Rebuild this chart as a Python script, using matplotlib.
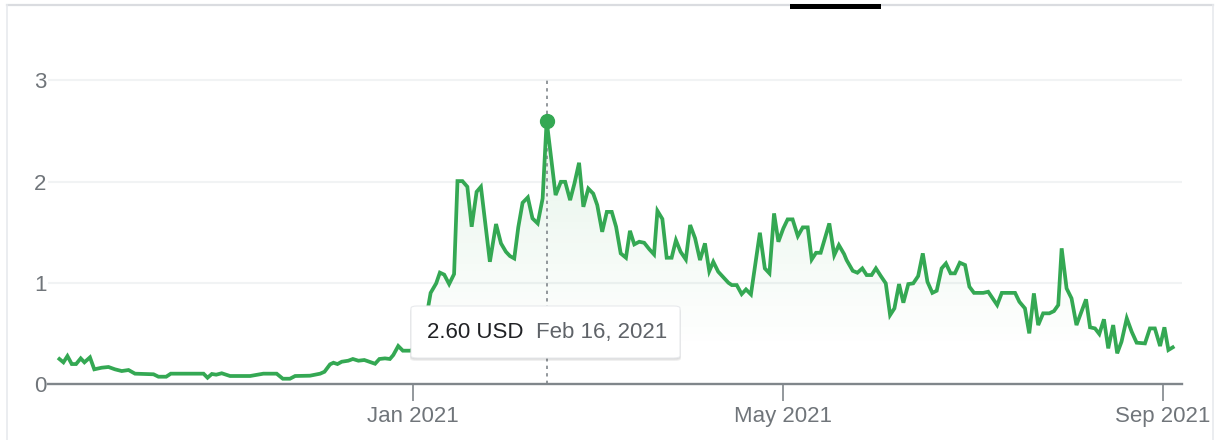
import matplotlib
matplotlib.use('Agg')
import matplotlib.pyplot as plt
import matplotlib.dates as mdates
import numpy as np
import datetime as dt
from matplotlib.colors import to_rgb
from matplotlib.patches import FancyBboxPatch, Rectangle
from matplotlib.lines import Line2D

# ---------------- data ----------------
base_date = dt.datetime(2021, 1, 1)
# days relative to Jan 1, 2021
day_offsets = [
    -114.6, -113.3, -112.0, -110.6, -109.2, -107.7, -106.5, -104.7, -103.3, -100.9,
    -98.7, -96.6, -94.4, -92.2, -90.1, -84.1, -82.5, -80.0, -78.5, -67.9,
    -66.6, -65.2, -63.8, -62.0, -59.3, -52.8, -48.5, -44.2, -42.2, -39.9,
    -38.2, -33.4, -30.1, -28.7, -26.9, -25.8, -24.5, -23.1, -21.0, -19.5,
    -17.7, -15.8, -13.9, -12.3, -10.9, -9.1, -7.5, -6.4, -4.8, -3.3,
    -1.0, 2.6, 5.7, 7.5, 8.7, 10.1, 11.7, 13.3, 14.4, 16.0,
    17.6, 19.0, 20.6, 22.0, 24.9, 26.9, 28.5, 30.1, 31.4, 32.8,
    34.1, 35.5, 37.2, 38.7, 40.4, 42.0, 43.3, 46.2, 47.9, 49.3,
    50.9, 52.3, 53.8, 55.2, 56.8, 58.4, 59.7, 61.3, 62.8, 64.4,
    65.8, 67.3, 69.0, 70.3, 71.7, 73.3, 74.9, 76.6, 78.1, 79.2,
    80.8, 82.2, 83.8, 85.2, 86.7, 88.4, 89.8, 91.4, 93.0, 94.6,
    96.0, 97.3, 98.9, 100.6, 102.2, 103.3, 104.9, 106.5, 107.9, 109.5,
    112.4, 114.0, 115.5, 117.0, 118.4, 120.0, 121.4, 123.0, 124.7, 126.3,
    127.9, 129.2, 130.6, 132.1, 134.9, 136.5, 138.0, 139.7, 140.5, 142.5,
    144.0, 145.6, 147.0, 148.6, 150.0, 151.6, 153.2, 154.6, 156.0, 157.5,
    158.9, 160.5, 162.1, 163.7, 165.2, 166.7, 168.3, 169.7, 171.3, 172.7,
    174.2, 175.6, 177.2, 178.9, 180.3, 181.8, 184.8, 186.4, 189.3, 190.8,
    195.1, 196.5, 198.3, 199.7, 201.2, 202.6, 204.2, 206.2, 207.7, 209.1,
    210.2, 211.8, 213.4, 215.0, 218.1, 219.4, 221.0, 222.4, 223.9, 225.3,
    226.9, 228.2, 229.6, 231.3, 232.9, 234.5, 237.2, 238.8, 240.4, 242.1,
    243.5, 244.8, 246.2,
]
prices = [
    0.247, 0.214, 0.276, 0.197, 0.197, 0.253, 0.214, 0.263, 0.145, 0.161,
    0.168, 0.145, 0.128, 0.138, 0.102, 0.096, 0.072, 0.072, 0.102, 0.102,
    0.062, 0.099, 0.092, 0.106, 0.079, 0.079, 0.102, 0.102, 0.052, 0.052,
    0.079, 0.082, 0.102, 0.121, 0.194, 0.210, 0.197, 0.220, 0.230, 0.247,
    0.230, 0.237, 0.217, 0.200, 0.247, 0.253, 0.247, 0.286, 0.375, 0.329,
    0.329, 0.360, 0.900, 0.994, 1.100, 1.080, 0.987, 1.086, 2.004, 2.004,
    1.948, 1.553, 1.898, 1.948, 1.207, 1.580, 1.389, 1.306, 1.264, 1.240,
    1.547, 1.790, 1.843, 1.636, 1.586, 1.833, 2.600, 1.866, 1.997, 1.997,
    1.816, 1.980, 2.185, 1.750, 1.930, 1.880, 1.767, 1.503, 1.700, 1.700,
    1.553, 1.290, 1.247, 1.513, 1.379, 1.405, 1.395, 1.330, 1.280, 1.710,
    1.630, 1.247, 1.247, 1.420, 1.306, 1.230, 1.570, 1.440, 1.224, 1.389,
    1.115, 1.207, 1.109, 1.053, 1.000, 0.977, 0.977, 0.888, 0.934, 0.885,
    1.494, 1.142, 1.093, 1.685, 1.405, 1.537, 1.626, 1.626, 1.461, 1.547,
    1.547, 1.230, 1.296, 1.296, 1.586, 1.273, 1.372, 1.283, 1.224, 1.118,
    1.099, 1.142, 1.076, 1.076, 1.142, 1.066, 0.994, 0.681, 0.747, 0.987,
    0.803, 0.987, 0.994, 1.066, 1.290, 1.010, 0.900, 0.921, 1.142, 1.191,
    1.093, 1.093, 1.198, 1.175, 0.961, 0.900, 0.900, 0.911, 0.780, 0.900,
    0.900, 0.812, 0.747, 0.500, 0.895, 0.582, 0.698, 0.698, 0.720, 0.780,
    1.340, 0.944, 0.846, 0.582, 0.836, 0.560, 0.549, 0.494, 0.639, 0.352,
    0.582, 0.303, 0.418, 0.649, 0.516, 0.408, 0.401, 0.549, 0.549, 0.375,
    0.560, 0.336, 0.362,
]
y_ticks = [0, 1, 2, 3]
x_tick_dates = ['2021-01-01', '2021-05-01', '2021-09-01']
x_tick_labels = ['Jan 2021', 'May 2021', 'Sep 2021']
tooltip_price = '2.60 USD'
tooltip_date = 'Feb 16, 2021'

# ---------------- style ----------------
GREEN = '#34a853'
AXIS_GRAY = '#80868b'
TEXT_GRAY = '#70757a'
GRID = '#f1f3f4'
FONT = ['Liberation Sans', 'DejaVu Sans']
plt.rcParams['font.family'] = FONT

W, H = 1219, 440
fig = plt.figure(figsize=(W / 100, H / 100), dpi=100)
fig.patch.set_facecolor('white')

ax = fig.add_axes([48 / W, 56 / H, (1182 - 48) / W, (384 - 60) / H])
ax.set_facecolor('white')

x0 = mdates.date2num(base_date)
xs = x0 + np.array(day_offsets)
ys = np.array(prices)

XL = (x0 - 118.3, x0 + 249.2)
YL = (0, 3.2)

# grid lines
for yv in y_ticks[1:]:
    ax.axhline(yv, color=GRID, lw=1.5, zorder=0)

# gradient fill under line
fill = ax.fill_between(xs, ys, 0, color='none', lw=0)
clip_path = fill.get_paths()[0]
n = 256
yy = np.linspace(0, 3.2, n)
grad = np.zeros((n, 1, 4))
grad[:, :, :3] = to_rgb(GREEN)
grad[:, 0, 3] = np.clip((yy - 0.35) / 2.3, 0, 1) * 0.13
im = ax.imshow(grad, extent=[xs[0], xs[-1], 0, 3.2], origin='lower',
               aspect='auto', zorder=1, interpolation='bilinear')
im.set_clip_path(clip_path, transform=ax.transData)
ax.set_xlim(*XL)
ax.set_ylim(*YL)

# line
ax.plot(xs, ys, color=GREEN, lw=2.7, solid_joinstyle='miter', zorder=3)

# peak marker + dotted vertical
ipk = int(np.argmax(ys))
ax.plot([xs[ipk], xs[ipk]], [0, 3.0], color=AXIS_GRAY, lw=1.2,
        ls=(0, (2, 2.5)), zorder=2)
ax.plot(xs[ipk], ys[ipk], 'o', color=GREEN, ms=10, zorder=4)

# axes styling
for s in ['top', 'right', 'left']:
    ax.spines[s].set_visible(False)
ax.spines['bottom'].set_color(AXIS_GRAY)
ax.spines['bottom'].set_linewidth(1.7)
ax.spines['bottom'].set_zorder(5)

ax.set_yticks(y_ticks)
ax.set_yticklabels([str(v) for v in y_ticks])
ax.tick_params(axis='y', length=0, pad=1, labelsize=16, labelcolor=TEXT_GRAY)

ax.set_xticks([mdates.datestr2num(d) for d in x_tick_dates])
ax.set_xticklabels(x_tick_labels)
ax.tick_params(axis='x', length=12, width=1.2, color=AXIS_GRAY, pad=4,
               labelsize=16, labelcolor=TEXT_GRAY)
for lbl in ax.get_xticklabels():
    lbl.set_clip_on(False)

# tooltip
tx, ty, tw, th = 411 / W, (H - 358) / H, (680 - 411) / W, (358 - 306) / H
for k, a in enumerate([0.05, 0.05, 0.06]):
    off = (k + 1)
    sh = FancyBboxPatch((tx - off * 0.3 / W, ty - off * 1.0 / H), tw + off * 0.6 / W, th,
                        boxstyle='round,pad=0,rounding_size=0.005',
                        transform=fig.transFigure, facecolor='black', alpha=a,
                        edgecolor='none', zorder=9)
    fig.add_artist(sh)
box = FancyBboxPatch((tx, ty), tw, th, boxstyle='round,pad=0,rounding_size=0.005',
                     transform=fig.transFigure, facecolor='white',
                     edgecolor='#e8eaed', lw=0.8, zorder=10)
fig.add_artist(box)
fig.text(427 / W, (H - 332) / H, tooltip_price, fontsize=16, color='#202124',
         va='center', ha='left', zorder=11)
fig.text(536 / W, (H - 332) / H, tooltip_date, fontsize=16, color='#5f6368',
         va='center', ha='left', zorder=11)

# outer card frame & tab indicator
fig.add_artist(Line2D([7 / W, 1213 / W], [(H - 5) / H, (H - 5) / H],
                      transform=fig.transFigure, color='#dadce0', lw=1.6, zorder=20))
fig.add_artist(Line2D([7 / W, 7 / W], [0, (H - 5) / H],
                      transform=fig.transFigure, color='#e8eaed', lw=1.2, zorder=20))
fig.add_artist(Line2D([1213 / W, 1213 / W], [0, (H - 5) / H],
                      transform=fig.transFigure, color='#e8eaed', lw=1.2, zorder=20))
fig.add_artist(Rectangle((790 / W, (H - 9) / H), (881 - 790) / W, 5 / H,
                         transform=fig.transFigure, facecolor='black',
                         edgecolor='none', zorder=21))

fig.savefig('out.png', dpi=100, facecolor='white')
